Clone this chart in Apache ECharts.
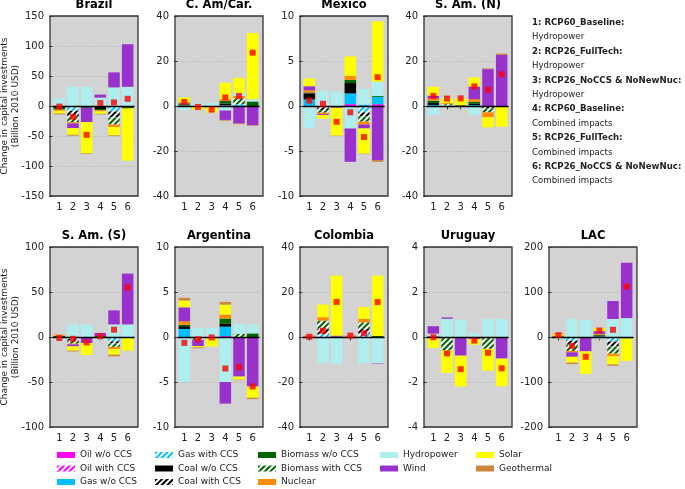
<!DOCTYPE html>
<html><head><meta charset="utf-8">
<script src="https://cdn.jsdelivr.net/npm/echarts@6/dist/echarts.min.js"></script>
<style>html,body{margin:0;padding:0;background:#fff}#c{width:685px;height:489px}</style>
</head><body><div id="c"></div>
<script>
// ---------------- DATA ----------------
const techs = ['Oil w/o CCS','Oil with CCS','Gas w/o CCS','Gas with CCS','Coal w/o CCS','Coal with CCS','Biomass w/o CCS','Biomass with CCS','Nuclear','Hydropower','Wind','Solar','Geothermal'];
const xLabels = ['1','2','3','4','5','6'];
const panelNames = ['Brazil','C. Am/Car.','Mexico','S. Am. (N)','S. Am. (S)','Argentina','Colombia','Uruguay','LAC'];
const yMins  = [-150,-40,-10,-40,-100,-10,-40,-4,-200];
const yMaxs  = [150,40,10,40,100,10,40,4,200];
const ySteps = [50,20,5,20,50,5,20,2,100];

// rows follow techs order; 6 values = scenarios 1..6
const brazil = [
  [0,0,0,0,0,0],
  [0,0,0,0,0,0],
  [0,0,0,0,0,0],
  [0,-8,0,0,-9,0],
  [-1.5,0,0,-5,0,0],
  [0,-9,0,0,-10,0],
  [-4.5,0,-3,-2,0,-4],
  [0,-10,0,0,-12,0],
  [-2,-2,0,-2,-4,0],
  [13,32,32,14,31,32],
  [0,-8,-24,5,25,71],
  [-4.5,-11,-52,-4,-14,-87],
  [-1.5,-1.5,-1,-1,-1,0]
];
const brazilNet = [-1,-18,-48,5,6,12];

const camcar = [
  [0,0,0,0,0,0],
  [0,0,0,0,0,0],
  [0.3,0,0,0.3,0.4,0],
  [0,0,0,0,0.5,0],
  [0.3,0,0,0.8,0,0],
  [0,0,0,0,0,0],
  [0.6,0,0,1.2,0,2.0],
  [0,0,0,0,2.6,0],
  [0.5,-0.2,0,0.7,1.0,0],
  [-2,1.3,1.3,-2,1.2,1.0],
  [0,0,0,-4.2,-7.8,-8.5],
  [2.1,-1.5,-2.9,7.3,6.8,29.5],
  [0,0,0,-0.3,-0.3,-0.3]
];
const camcarNet = [1.8,-0.4,-1.6,3.8,4.4,23.7];

const mexico = [
  [0,0,0,0.2,0,0.2],
  [0,0,0,0,0,0],
  [0.74,0,0,1.2,0.15,0.8],
  [0,-0.15,0,0,-0.7,0],
  [0.66,0,0,1.15,0,0],
  [0,-0.3,0,0,-0.45,0],
  [0.1,0,0,0.35,0,0.1],
  [0,-0.3,0,0,-0.6,0],
  [0.25,-0.15,0,0.45,-0.3,0],
  [-2.45,1.65,1.6,-2.5,1.75,1.6],
  [0.45,-0.1,-0.2,-3.7,-0.45,-6.0],
  [0.85,-0.4,-3.1,2.15,-2.8,6.7],
  [0,0,-0.05,0,-0.05,-0.2]
];
const mexicoNet = [0.6,0.25,-1.75,-0.7,-3.45,3.2];

const samNorth = [
  [0,0,0,0,0,0],
  [0,0,0,0,0,0],
  [0.5,0,0,0.4,0,0],
  [0,0.3,0,0,-0.4,0],
  [0.8,0,0.3,0.7,0,0],
  [0,0,0,0,-0.8,0],
  [1.0,0,0,0.7,0,0],
  [0,0.5,0,0,-1.6,0],
  [1.0,0.5,0,1.2,-2.2,0],
  [-4,0,0,-4,0,0],
  [1.3,-0.2,0,5.7,16.4,22.7],
  [3.9,2.2,3.1,4.0,-4.5,-9.2],
  [0,0,0,0,0.3,0.6]
];
const samNorthNet = [4.5,3.3,3.4,8.7,7.2,14.1];

const samSouth = [
  [0,0,0,0,0,0],
  [0,0,0,0,0,0],
  [0,0,0,0,0,0],
  [0,-2.2,0,0,-4.8,0],
  [0,0,0,0,0,0],
  [0,-2,0,0,-2.5,0],
  [1.2,0,0,1.0,0,0],
  [0,-3.2,0,0,-3.7,0],
  [0.6,-0.8,0,0,-2.3,0],
  [-3.8,14,14,-3.8,14,14],
  [0,-2.2,-6.7,3.5,15.6,56.4],
  [0.4,-4.8,-13.3,0,-6.3,-15.2],
  [0.5,-0.8,0,0,-1.9,0]
];
const samSouthNet = [-1.1,-2,-6,0.7,8.1,55.2];

const argentina = [
  [0,0,0,0.1,0,0],
  [0,0,0,0,0,0],
  [0.9,0,0,1.05,0,0],
  [0,0,0,0,0,0],
  [0.3,0,0,0.35,0,0],
  [0,0,0,0,0,0],
  [0.15,0,0,0.55,0,0.4],
  [0,-0.3,0,0,0.35,0],
  [0.4,0,0,0.45,0,0],
  [-5.0,1.0,1.0,-5.0,1.1,1.0],
  [1.55,-0.7,0,-2.4,-4.4,-5.5],
  [0.75,-0.15,-1.05,1.1,-0.35,-1.25],
  [0.3,-0.1,0,0.3,-0.05,-0.15]
];
const argentinaNet = [-0.65,-0.25,-0.05,-3.5,-3.35,-5.5];

const colombia = [
  [0,0,0,0,0,0],
  [0,0,0,0,0,0],
  [0,0,0,0,0,0],
  [0,1.2,0,0,1.6,0],
  [0,0,0,0,0,0],
  [0,2.5,0,0,2.0,0],
  [0,0,0.2,0,0,0.5],
  [0,3.6,0,0,2.9,0],
  [0.4,1.5,0,0.4,1.6,0],
  [-0.5,-11.6,-11.7,0,-11.6,-11.6],
  [0,0,0.4,0,0,-0.2],
  [0,5.6,26.7,0,5.2,26.8],
  [0.2,0,0,0.2,0,0]
];
const colombiaNet = [0.1,2.8,15.6,0.6,1.7,15.5];

const uruguay = [
  [0,0,0,0,0,0],
  [0,0,0,0,0,0],
  [0,0,0,0,0,0],
  [0,0,0,0,0,0],
  [0,0,0,0,0,0],
  [0,0,0,0,0,0],
  [0.03,0,-0.04,-0.05,0,0],
  [-0.03,-0.6,0,0,-0.53,0],
  [0,0,0,0,0,0],
  [0.12,0.81,0.77,0.18,0.8,0.8],
  [0.33,0.06,-0.79,-0.04,0,-0.96],
  [-0.46,-1.0,-1.37,-0.25,-0.97,-1.23],
  [0,0,0,0,0,0]
];
const uruguayNet = [-0.01,-0.73,-1.43,-0.16,-0.7,-1.39];

const lac = [
  [0,0,0,0,0,0],
  [0,0,0,0,0,0],
  [0,0,0,1.5,0,0],
  [0,-8,0,0,-10,0],
  [0,0,0,1.5,0,0],
  [0,-9,0,0,-11,0],
  [1.5,0,-2,2,0,-3],
  [0,-14,0,0,-16,0],
  [2,-3,0,2,-6,0],
  [-4,40,38,-5,40,42],
  [0,-10,-30,6,40,123],
  [3,-13,-50,7,-18,-50],
  [1.5,-3,0,-0.5,-3,0]
];
const lacNet = [4,-20,-44,14.5,16,112];

const notes = ['1: RCP60_Baseline:','Hydropower','2: RCP26_FullTech:','Hydropower','3: RCP26_NoCCS & NoNewNuc:','Hydropower',
               '4: RCP60_Baseline:','Combined impacts','5: RCP26_FullTech:','Combined impacts','6: RCP26_NoCCS & NoNewNuc:','Combined impacts'];
const yName1 = 'Change in capital investments';
const yName2 = '(Billion 2010 USD)';

// ---------------- STYLE / LAYOUT ----------------
const panels = [brazil,camcar,mexico,samNorth,samSouth,argentina,colombia,uruguay,lac];
const nets = [brazilNet,camcarNet,mexicoNet,samNorthNet,samSouthNet,argentinaNet,colombiaNet,uruguayNet,lacNet];
const techColors = ['#ff00ff','#ff00ff','#00bfff','#00bfff','#000000','#000000','#006400','#006400','#ff8c00','#afeeee','#9932cc','#ffff00','#cd853f'];
const hatched = [false,true,false,true,false,true,false,true,false,false,false,false,false];
const FONT = '"DejaVu Sans", "Liberation Sans", sans-serif';
const colLeft = [50,175,300,424,549];
const rowTop = [16,247];
const W = 88, H = 180, INSET_L = 2.5, INNER_W = 82;
const pos = [[0,0],[0,1],[0,2],[0,3],[1,0],[1,1],[1,2],[1,3],[1,4]];

const grids = [], xAxes = [], yAxes = [], series = [], graphics = [];
pos.forEach(([r,c],p) => {
  const left = colLeft[c], top = rowTop[r];
  grids.push({left: left + INSET_L, top, width: INNER_W, height: H, show: false});
  xAxes.push({
    type: 'category', gridIndex: p, data: xLabels, boundaryGap: true,
    axisLine: {show: false}, splitLine: {show: false},
    axisTick: {show: true, inside: false, alignWithLabel: true, length: 3.5, lineStyle: {color: '#333'}},
    axisLabel: {fontFamily: FONT, fontSize: 10, color: '#222', margin: 6}
  });
  yAxes.push({
    type: 'value', gridIndex: p, min: yMins[p], max: yMaxs[p], interval: ySteps[p],
    axisLine: {show: false},
    axisTick: {show: true, inside: false, length: 3.5, lineStyle: {color: '#333'}},
    axisLabel: {fontFamily: FONT, fontSize: 10, color: '#222', margin: 6 + INSET_L},
    splitLine: {show: true, lineStyle: {color: '#aaaaaa', type: [1,2], width: 1}}
  });
  panels[p].forEach((row, t) => {
    const itemStyle = hatched[t]
      ? {color: '#ffffff', decal: {symbol: 'rect', symbolSize: 1, dashArrayX: [1,0], dashArrayY: [2,2], rotation: -Math.PI/4, color: techColors[t]}}
      : {color: techColors[t]};
    series.push({
      type: 'bar', name: techs[t], xAxisIndex: p, yAxisIndex: p, stack: 'st' + p,
      barWidth: 11.5, itemStyle, emphasis: {disabled: true}, silent: true,
      data: row
    });
  });
  series.push({
    type: 'scatter', xAxisIndex: p, yAxisIndex: p, symbol: 'rect', symbolSize: 6, z: 10, silent: true,
    itemStyle: {color: '#ff0000'},
    data: nets[p],
    markLine: {silent: true, symbol: 'none', label: {show: false}, lineStyle: {color: '#000', width: 1.3, type: 'solid'}, data: [{yAxis: 0}], animation: false}
  });
  graphics.push({type: 'rect', z: -5, silent: true, shape: {x: left, y: top, width: W, height: H}, style: {fill: '#d3d3d3'}});
  graphics.push({type: 'rect', z: 100, silent: true, shape: {x: left, y: top, width: W, height: H}, style: {fill: 'none', stroke: '#333', lineWidth: 1.3}});
  graphics.push({type: 'text', z: 100, x: left + W/2, y: top - 10.5, style: {text: panelNames[p], font: 'bold 11.5px ' + FONT, fill: '#000', align: 'center', verticalAlign: 'middle', textAlign: 'center', textVerticalAlign: 'middle'}});
});
rowTop.forEach(top => {
  [[yName1, 5],[yName2, 15.5]].forEach(([txt, x]) => {
    graphics.push({type: 'text', z: 100, x, y: top + H/2, rotation: Math.PI/2,
      style: {text: txt, font: '9px ' + FONT, fill: '#222', align: 'center', verticalAlign: 'middle', textAlign: 'center', textVerticalAlign: 'middle'}});
  });
});
notes.forEach((txt, i) => {
  graphics.push({type: 'text', z: 100, x: 532, y: 22.7 + i*14.4,
    style: {text: txt, font: (i % 2 === 0 ? 'bold ' : '') + '8.6px ' + FONT, fill: '#222', align: 'left', verticalAlign: 'middle', textAlign: 'left', textVerticalAlign: 'middle'}});
});

const legendCols = [[0,3,57],[3,6,155],[6,9,258],[9,11,380],[11,13,476]];
const legends = legendCols.map(([a,b,x]) => ({
  data: techs.slice(a,b), left: x, top: 449.5, orient: 'vertical', padding: 0,
  itemWidth: 18, itemHeight: 6, itemGap: 2.5, icon: 'rect', selectedMode: false,
  textStyle: {fontFamily: FONT, fontSize: 9, color: '#222', lineHeight: 11}
}));

const chart = echarts.init(document.getElementById('c'), null, {renderer: 'canvas'});
chart.setOption({
  animation: false,
  grid: grids, xAxis: xAxes, yAxis: yAxes, series, legend: legends, graphic: graphics
});
</script></body></html>
